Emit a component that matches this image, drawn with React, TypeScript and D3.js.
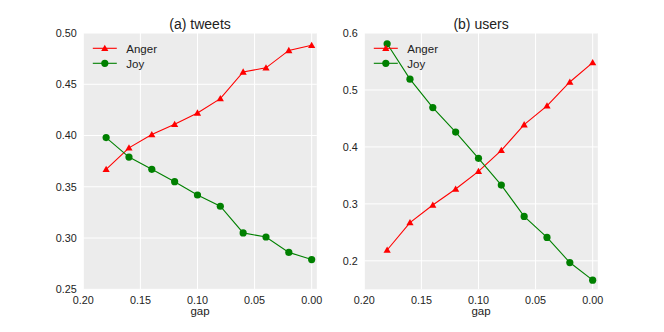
import React from 'react';
import * as d3 from 'd3';

const gaps = [0.18, 0.16, 0.14, 0.12, 0.1, 0.08, 0.06, 0.04, 0.02, 0.0];
const tweetsAnger = [0.367, 0.388, 0.401, 0.411, 0.422, 0.436, 0.462, 0.466, 0.483, 0.488];
const tweetsJoy = [0.398, 0.379, 0.367, 0.355, 0.342, 0.331, 0.305, 0.301, 0.286, 0.279];
const usersAnger = [0.219, 0.267, 0.298, 0.326, 0.357, 0.394, 0.439, 0.472, 0.514, 0.548];
const usersJoy = [0.581, 0.519, 0.469, 0.426, 0.380, 0.333, 0.278, 0.241, 0.197, 0.166];
const xTicks = [0.2, 0.15, 0.1, 0.05, 0.0];
const tweetsTicks = [0.25, 0.3, 0.35, 0.4, 0.45, 0.5];
const usersTicks = [0.2, 0.3, 0.4, 0.5, 0.6];

const FONT = 'Liberation Sans, Arial, sans-serif';
const RED = '#ff0000';
const GREEN = '#008000';

function Triangle({ x, y }: { x: number; y: number }) {
  const s = 3.6;
  return <path d={`M${x},${y - s}L${x + s},${y + s * 0.75}L${x - s},${y + s * 0.75}Z`} fill={RED} />;
}

function Panel(props: {
  left: number; title: string; anger: number[]; joy: number[];
  yDomain: [number, number]; yTicks: number[]; yFmt: string;
}) {
  const { left, title, anger, joy, yDomain, yTicks, yFmt } = props;
  const top = 33, bottom = 289.3, width = 233.5;
  const x = d3.scaleLinear().domain([0.2, -0.0045]).range([left, left + width]);
  const y = d3.scaleLinear().domain(yDomain).range([bottom, top]);
  const line = d3.line<number>().x((_, i) => x(gaps[i])).y(d => y(d));
  const fmt = d3.format(yFmt);
  const lx = left + 9.5;
  return (
    <g>
      <rect x={left} y={top} width={width} height={bottom - top} fill="#ececec" />
      {xTicks.map(t => (
        <line key={'gx' + t} x1={x(t)} x2={x(t)} y1={top} y2={bottom} stroke="#fff" strokeWidth={1} />
      ))}
      {yTicks.map(t => (
        <line key={'gy' + t} x1={left} x2={left + width} y1={y(t)} y2={y(t)} stroke="#fff" strokeWidth={1} />
      ))}
      {xTicks.map(t => (
        <text key={'tx' + t} x={x(t)} y={304} textAnchor="middle" fontSize={10.8} fill="#222">{d3.format('.2f')(t)}</text>
      ))}
      {yTicks.map(t => (
        <text key={'ty' + t} x={left - 6.5} y={y(t) + 3.9} textAnchor="end" fontSize={10.8} fill="#222">{fmt(t)}</text>
      ))}
      <text x={left + width / 2} y={28.5} textAnchor="middle" fontSize={14} fill="#222">{title}</text>
      <text x={left + width / 2} y={315} textAnchor="middle" fontSize={11.5} fill="#222">gap</text>

      <path d={line(anger) || ''} fill="none" stroke={RED} strokeWidth={1.1} />
      {anger.map((v, i) => <Triangle key={'a' + i} x={x(gaps[i])} y={y(v)} />)}
      <path d={line(joy) || ''} fill="none" stroke={GREEN} strokeWidth={1.1} />
      {joy.map((v, i) => <circle key={'j' + i} cx={x(gaps[i])} cy={y(v)} r={3.6} fill={GREEN} />)}

      <line x1={lx} x2={lx + 24} y1={48.3} y2={48.3} stroke={RED} strokeWidth={1.1} />
      <Triangle x={lx + 12} y={48.3} />
      <text x={lx + 33.5} y={52.5} fontSize={11.5} fill="#222">Anger</text>
      <line x1={lx} x2={lx + 24} y1={63.3} y2={63.3} stroke={GREEN} strokeWidth={1.1} />
      <circle cx={lx + 12} cy={63.3} r={3.6} fill={GREEN} />
      <text x={lx + 33.5} y={67.5} fontSize={11.5} fill="#222">Joy</text>
    </g>
  );
}

export default function App() {
  return (
    <svg width={664} height={332} style={{ position: 'absolute', left: 0, top: 0, fontFamily: FONT }}>
      <rect width={664} height={332} fill="#fff" />
      <Panel left={83.3} title="(a) tweets" anger={tweetsAnger} joy={tweetsJoy}
        yDomain={[0.25, 0.5]} yTicks={tweetsTicks} yFmt=".2f" />
      <Panel left={364.3} title="(b) users" anger={usersAnger} joy={usersJoy}
        yDomain={[0.15, 0.6]} yTicks={usersTicks} yFmt=".1f" />
    </svg>
  );
}
